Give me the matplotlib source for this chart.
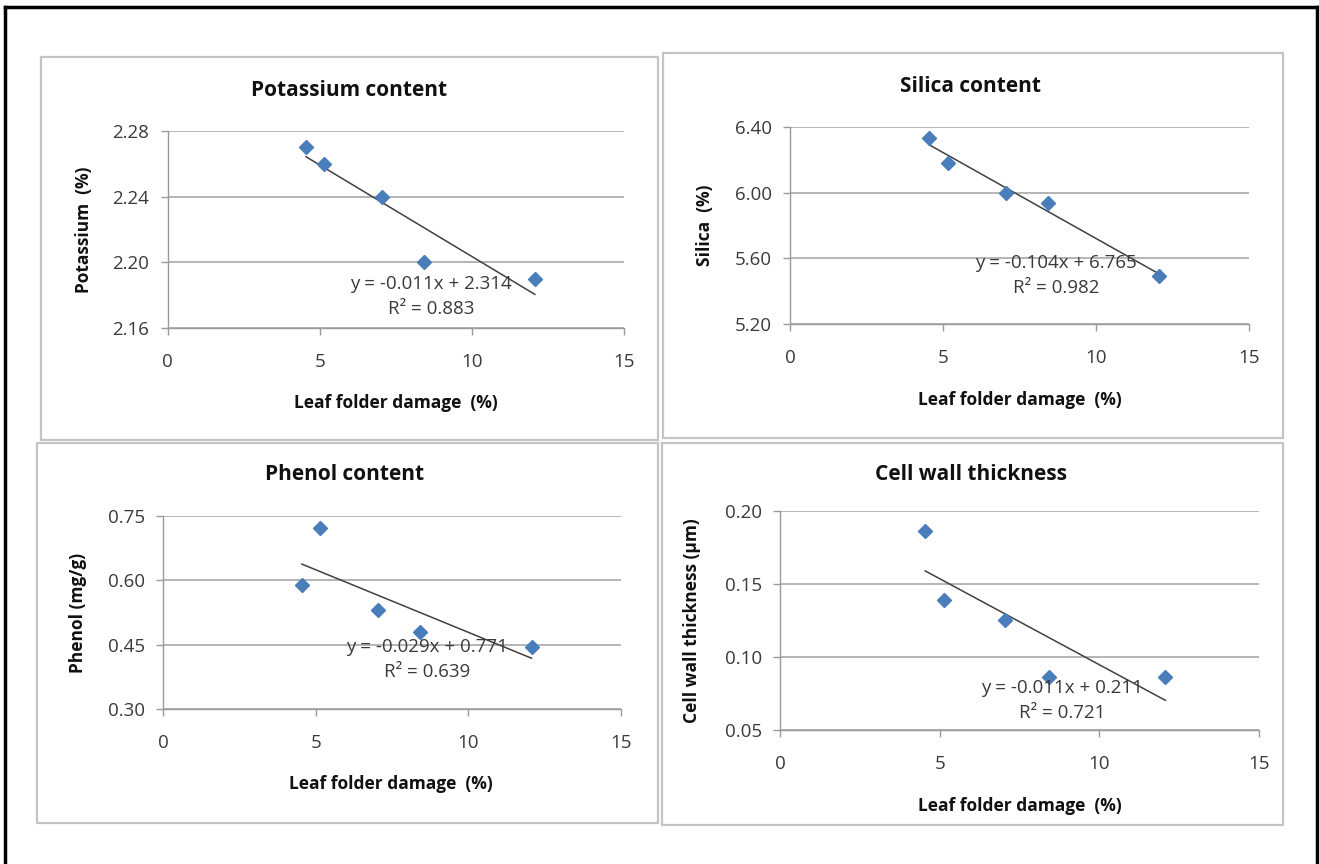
import numpy as np
import matplotlib
matplotlib.use('Agg')
import matplotlib.pyplot as plt
from matplotlib.patches import Rectangle
from matplotlib.lines import Line2D

plt.rcParams['font.family'] = ['Open Sans', 'DejaVu Sans']

W, H = 1319, 864

# data
damage = [4.55, 5.15, 7.05, 8.43, 12.07]
potassium = [2.27, 2.26, 2.24, 2.20, 2.19]
silica = [6.33, 6.18, 6.00, 5.94, 5.49]
phenol = [0.588, 0.723, 0.531, 0.479, 0.445]
cell_wall = [0.1865, 0.139, 0.1253, 0.0865, 0.0865]

titles = ['Potassium content', 'Silica content', 'Phenol content', 'Cell wall thickness']
ylabels = ['Potassium  (%)', 'Silica  (%)', 'Phenol (mg/g)', 'Cell wall thickness (µm)']
equations = ['y = -0.011x + 2.314', 'y = -0.104x + 6.765', 'y = -0.029x + 0.771', 'y = -0.011x + 0.211']
r2_labels = ['R² = 0.883', 'R² = 0.982', 'R² = 0.639', 'R² = 0.721']
yticks = [[2.16, 2.20, 2.24, 2.28], [5.20, 5.60, 6.00, 6.40],
          [0.30, 0.45, 0.60, 0.75], [0.05, 0.10, 0.15, 0.20]]
xticks = [0, 5, 10, 15]

# layout in pixels: panel box, plot area, title/label/equation positions
panels = [
    dict(box=(41, 57, 658, 440), plot=(167.5, 131, 624, 328), title=(349, 90),
         ylab=84, xlab=(396, 403), eq=(431, 284)),
    dict(box=(663, 53, 1283, 438), plot=(790, 127, 1249, 324), title=(971, 86),
         ylab=705, xlab=(1020, 400), eq=(1056, 263)),
    dict(box=(37, 443, 658, 823), plot=(163, 516, 621, 709), title=(345, 475),
         ylab=78, xlab=(391, 784), eq=(427, 647)),
    dict(box=(662, 443, 1283, 825), plot=(780, 511, 1259, 730), title=(971, 475),
         ylab=692, xlab=(1020, 806), eq=(1062, 688)),
]
series = [potassium, silica, phenol, cell_wall]

fig = plt.figure(figsize=(W / 100, H / 100), dpi=100)


def fx(x):
    return x / W


def fy(y):
    return 1 - y / H


# outer black frame (bottom edge is cut off in the original)
for xs, ys in [([5, 5], [7, 864]), ([5, 1317], [7, 7]), ([1317, 1317], [7, 864])]:
    fig.add_artist(Line2D([fx(v) for v in xs], [fy(v) for v in ys], color='black', lw=2.5))

for i, p in enumerate(panels):
    x0, y0, x1, y1 = p['box']
    fig.add_artist(Rectangle((fx(x0), fy(y1)), fx(x1) - fx(x0), fy(y0) - fy(y1),
                             fill=False, edgecolor='#c4c4c4', lw=1.6))

    px0, py0, px1, py1 = p['plot']
    ax = fig.add_axes([fx(px0), fy(py1), fx(px1) - fx(px0), fy(py0) - fy(py1)])
    yt = yticks[i]
    ax.set_xlim(0, 15)
    ax.set_ylim(yt[0], yt[-1])
    ax.set_xticks(xticks)
    ax.set_yticks(yt)
    ax.set_yticklabels([f'{v:.2f}' for v in yt])
    ax.yaxis.grid(True, color='#b4b4b4', lw=1.4)
    ax.set_axisbelow(True)
    for s in ['top', 'right']:
        ax.spines[s].set_visible(False)
    for s in ['left', 'bottom']:
        ax.spines[s].set_color('#9a9a9a')
        ax.spines[s].set_linewidth(1.0)
    ax.tick_params(axis='both', colors='#9a9a9a', labelcolor='#3a3a3a',
                   labelsize=13.5, length=5, width=1.0, direction='out')
    ax.tick_params(axis='x', pad=13)
    ax.tick_params(axis='y', pad=8)
    ax.patch.set_alpha(0)

    y = series[i]
    slope, intercept = np.polyfit(damage, y, 1)
    xl = np.array([min(damage), max(damage)])
    ax.plot(xl, slope * xl + intercept, color='#404040', lw=1.1, zorder=3)
    ax.plot(damage, y, linestyle='none', marker='D', markersize=7,
            color='#4a7ebb', markeredgecolor='#4a7ebb', zorder=4)

    fig.text(fx(p['title'][0]), fy(p['title'][1]), titles[i], ha='center', va='center',
             fontsize=15, fontweight='bold', color='#111111')
    fig.text(fx(p['ylab']), fy((py0 + py1) / 2), ylabels[i], ha='center', va='center',
             rotation=90, fontsize=12.5, fontweight='bold', color='#111111')
    fig.text(fx(p['xlab'][0]), fy(p['xlab'][1]), 'Leaf folder damage  (%)', ha='center',
             va='center', fontsize=12.5, fontweight='bold', color='#111111')
    fig.text(fx(p['eq'][0]), fy(p['eq'][1]), equations[i], ha='center', va='center',
             fontsize=13.5, color='#3a3a3a')
    fig.text(fx(p['eq'][0]), fy(p['eq'][1] + 25), r2_labels[i], ha='center', va='center',
             fontsize=13.5, color='#3a3a3a')

fig.savefig('out.png', dpi=100, facecolor='white')
